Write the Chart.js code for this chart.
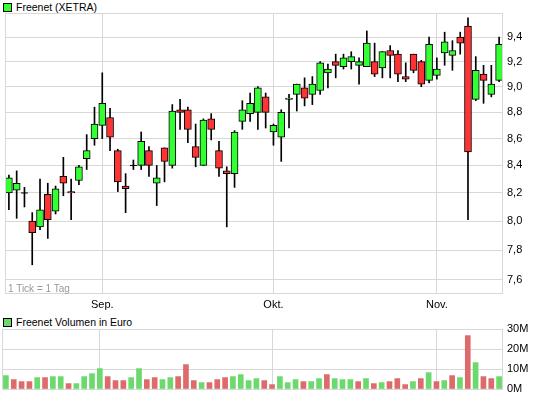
<!DOCTYPE html>
<html>
<head>
<meta charset="utf-8">
<script src="https://cdn.jsdelivr.net/npm/chart.js@4.4.0/dist/chart.umd.min.js"></script>
<style>
  body { margin: 0; background: #fff; font-family: "Liberation Sans", Arial, sans-serif; }
  #wrap { position: relative; width: 545px; height: 398px; overflow: hidden; }
  canvas { position: absolute; left: 0; }
  .legend { position: absolute; left: 3px; font-size: 10.5px; color: #000; line-height: 12px; white-space: nowrap; }
  .legend span { display: inline-block; width: 7px; height: 7px; border: 1px solid #000; margin-right: 4px; vertical-align: -1px; }
  #tickNote { position: absolute; left: 8px; top: 283px; font-size: 10px; color: #999; }
</style>
</head>
<body>
<div id="wrap">
  <div class="legend" style="top:1px"><span style="background:#33ff33"></span>Freenet (XETRA)</div>
  <canvas id="price" width="545" height="312" style="top:0"></canvas>
  <div id="tickNote">1 Tick = 1 Tag</div>
  <div class="legend" style="top:316px"><span style="background:#6bd96b"></span>Freenet Volumen in Euro</div>
  <canvas id="volume" width="545" height="86" style="top:312px"></canvas>
</div>
<script>
const dates = ["16.08.","17.08.","18.08.","19.08.","20.08.","23.08.","24.08.","25.08.","26.08.","27.08.","30.08.","31.08.",
  "01.09.","02.09.","03.09.","06.09.","07.09.","08.09.","09.09.","10.09.","13.09.","14.09.","15.09.","16.09.","17.09.",
  "20.09.","21.09.","22.09.","23.09.","24.09.","27.09.","28.09.","29.09.","30.09.",
  "01.10.","04.10.","05.10.","06.10.","07.10.","08.10.","11.10.","12.10.","13.10.","14.10.","15.10.",
  "18.10.","19.10.","20.10.","21.10.","22.10.","25.10.","26.10.","27.10.","28.10.","29.10.",
  "01.11.","02.11.","03.11.","04.11.","05.11.","08.11.","09.11.","10.11.","11.11."];
const monthNames = {"09": "Sep.", "10": "Okt.", "11": "Nov."};

const open  = [8.20,8.22,8.20,8.00,7.96,8.19,8.07,8.32,8.21,8.29,8.45,8.60,8.70,8.76,8.51,8.25,8.40,8.40,8.51,8.27,8.53,8.40,
  8.82,8.82,8.54,8.40,8.75,8.51,8.36,8.34,8.73,8.79,8.80,8.92,8.65,8.61,8.90,8.94,8.99,8.94,8.97,9.11,9.20,9.16,9.20,9.17,
  9.16,9.20,9.15,9.29,9.26,9.08,9.26,9.20,9.05,9.09,9.27,9.25,9.40,9.49,8.90,9.10,8.94,9.05];
const high  = [8.33,8.36,8.24,8.06,8.30,8.27,8.25,8.46,8.30,8.40,8.63,8.84,9.11,8.83,8.52,8.34,8.44,8.65,8.54,8.40,8.53,8.86,
  8.90,8.84,8.71,8.75,8.79,8.58,8.39,8.66,8.89,8.95,9.00,8.95,8.71,8.82,8.94,9.02,9.07,9.08,9.20,9.18,9.26,9.26,9.28,9.23,
  9.45,9.35,9.28,9.33,9.29,9.19,9.26,9.21,9.40,9.23,9.44,9.37,9.44,9.56,9.24,9.17,9.17,9.40];
const low   = [8.08,8.02,8.10,7.70,7.94,7.88,8.05,8.18,8.01,8.26,8.37,8.55,8.60,8.51,8.21,8.06,8.37,8.37,8.32,8.11,8.28,8.38,
  8.67,8.57,8.39,8.40,8.59,8.32,7.96,8.24,8.67,8.73,8.67,8.68,8.55,8.43,8.68,8.81,8.85,8.86,8.94,8.99,9.07,9.14,9.14,9.02,
  9.16,9.08,9.07,9.07,9.04,9.04,9.11,9.00,9.03,9.06,9.17,9.13,9.26,8.01,8.89,8.87,8.92,9.04];
const close = [8.31,8.27,8.20,7.92,8.08,8.01,8.23,8.27,8.20,8.39,8.51,8.71,8.87,8.61,8.28,8.23,8.40,8.58,8.40,8.31,8.43,8.81,
  8.80,8.67,8.46,8.74,8.67,8.38,8.34,8.65,8.82,8.87,8.99,8.80,8.70,8.80,8.91,9.02,8.91,9.02,9.19,9.14,9.17,9.23,9.24,9.20,
  9.35,9.10,9.28,9.25,9.10,9.06,9.13,9.02,9.34,9.14,9.36,9.29,9.35,8.50,9.13,9.05,9.02,9.34];
// Volumen in Mio. Euro
const volume = [6.7,4.7,3.7,3.7,5.7,5.7,6.2,6.2,2.7,2.7,6.2,7.7,10.2,6.2,4.2,4.2,5.7,10.2,4.7,5.7,4.7,5.7,6.2,12.2,
  4.2,3.2,3.2,4.7,5.7,6.2,7.2,4.2,5.2,4.2,2.2,6.2,3.2,4.7,3.7,3.7,5.2,7.2,5.2,4.7,4.7,3.7,5.2,2.7,3.2,3.7,5.2,2.2,
  3.7,5.2,8.2,3.7,4.2,6.7,5.7,26.7,13.2,6.2,5.2,6.2];

const priceTicks = [7.6, 7.8, 8.0, 8.2, 8.4, 8.6, 8.8, 9.0, 9.2, 9.4];
const volumeTicks = [0, 10, 20, 30];

const GRID = '#d8d8d8';
Chart.defaults.font.family = '"Liberation Sans", Arial, sans-serif';
Chart.defaults.font.size = 11;
Chart.defaults.color = '#000';
Chart.defaults.animation = false;

const frame = {
  id: 'frame',
  afterDraw(chart) {
    const a = chart.chartArea, c = chart.ctx;
    c.save();
    c.strokeStyle = GRID;
    c.lineWidth = 1;
    c.strokeRect(a.left + 0.5, a.top + 0.5, a.right - a.left - 1, a.bottom - a.top);
    c.restore();
  }
};

function monthLabel(i) {
  const d = dates[i];
  return d.startsWith('01.') ? monthNames[d.slice(3, 5)] : '';
}
function monthGrid(ctx) {
  return (ctx.index !== undefined && monthLabel(ctx.index)) ? GRID : 'rgba(0,0,0,0)';
}
function noPad(s) {
  s.paddingLeft = 0; s.paddingRight = 0; s.paddingTop = 0; s.paddingBottom = 0;
}

const up = close.map((c, i) => c >= open[i]);
const bodies = open.map((o, i) => [o, close[i]]);
const wicks = low.map((l, i) => [l, high[i]]);
const doji = open.map((o, i) => o === close[i] ? o : null);

new Chart(document.getElementById('price'), {
  type: 'bar',
  data: {
    labels: dates,
    datasets: [
      {
        type: 'line', data: doji, showLine: false,
        pointStyle: 'line', pointRadius: 3.5, borderColor: '#000', borderWidth: 1
      },
      {
        data: bodies, grouped: false, barThickness: 7,
        backgroundColor: up.map(u => u ? '#33ff33' : '#ff3333'),
        borderColor: '#000', borderWidth: 1, borderSkipped: false
      },
      {
        data: wicks, grouped: false, barThickness: 1,
        backgroundColor: '#000', borderWidth: 0
      }
    ]
  },
  options: {
    responsive: false,
    layout: { padding: { left: 2, top: 13, right: 0, bottom: 0 } },
    plugins: { legend: { display: false }, tooltip: { enabled: false } },
    scales: {
      x: {
        offset: true,
        grid: { offset: false, color: monthGrid, drawTicks: false },
        border: { display: false },
        ticks: { autoSkip: false, maxRotation: 0, padding: 5, callback: (v, i) => monthLabel(i) },
        afterFit: s => { s.height = 19; noPad(s); }
      },
      y: {
        type: 'logarithmic', position: 'right', bounds: 'data',
        min: 7.512, max: 9.6,
        grid: { color: GRID, drawTicks: false },
        border: { display: false },
        afterBuildTicks: s => { s.ticks = priceTicks.map(v => ({ value: v })); },
        ticks: { padding: 4, callback: v => v.toFixed(1).replace('.', ',') },
        afterFit: s => { s.width = 42; noPad(s); }
      }
    }
  },
  plugins: [frame]
});

new Chart(document.getElementById('volume'), {
  type: 'bar',
  data: {
    labels: dates,
    datasets: [{
      data: volume, barThickness: 5,
      backgroundColor: close.map((c, i) => (i === 0 || c >= close[i - 1]) ? '#6bd96b' : '#dd6b6b'),
      borderWidth: 0
    }]
  },
  options: {
    responsive: false,
    layout: { padding: { left: 2, top: 17, right: 0, bottom: 0 } },
    plugins: { legend: { display: false }, tooltip: { enabled: false } },
    scales: {
      x: {
        offset: true,
        grid: { offset: false, color: monthGrid, drawTicks: false },
        border: { display: false },
        ticks: { display: false },
        afterFit: s => { s.height = 9; noPad(s); }
      },
      y: {
        position: 'right', min: 0, max: 30,
        grid: { color: GRID, drawTicks: false },
        border: { display: false },
        afterBuildTicks: s => { s.ticks = volumeTicks.map(v => ({ value: v })); },
        ticks: { padding: 4, callback: v => v + 'M' },
        afterFit: s => { s.width = 42; noPad(s); }
      }
    }
  },
  plugins: [frame]
});
</script>
</body>
</html>
